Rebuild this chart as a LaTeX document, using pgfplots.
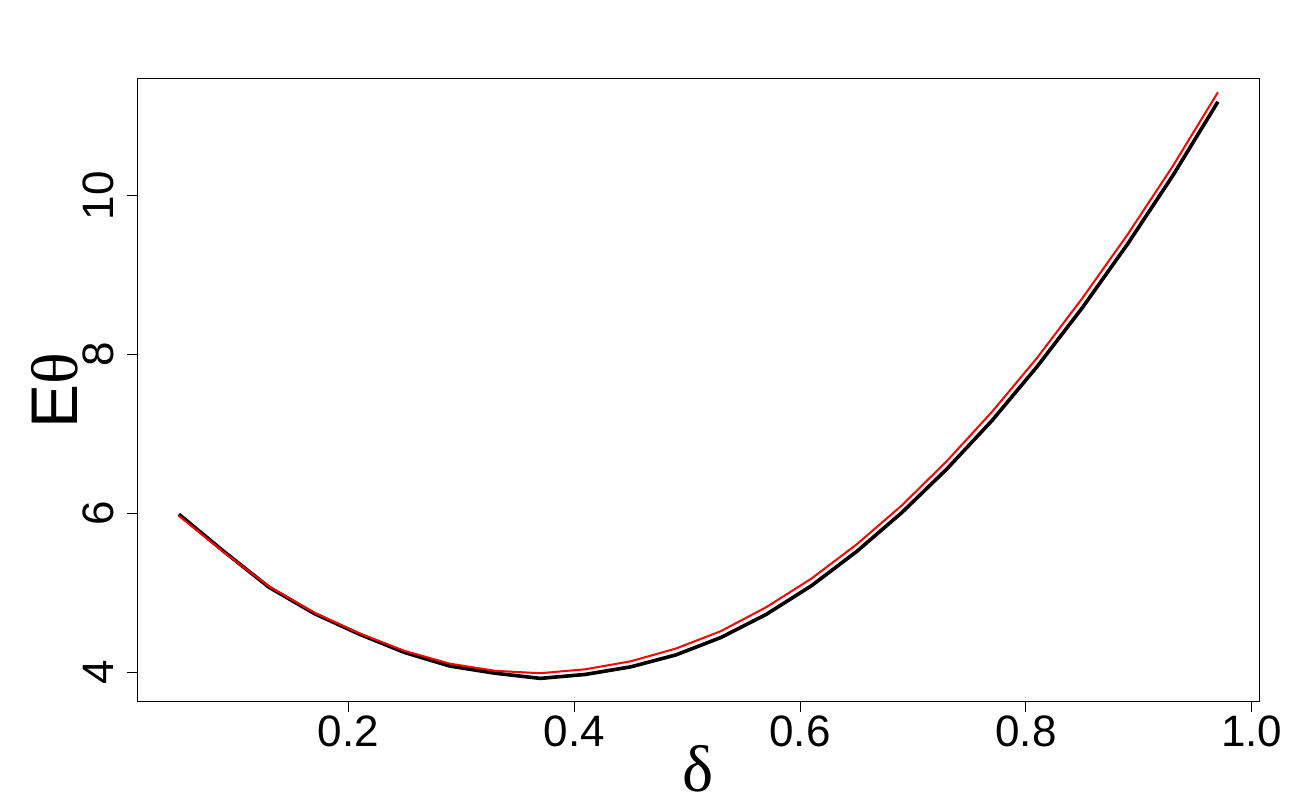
\documentclass[border=0pt]{standalone}
\usepackage{fontspec}
\setmainfont{Liberation Sans}
\newfontfamily\grk{Liberation Serif}
\usepackage{pgfplots}
\pgfplotsset{compat=1.18}
\begin{document}
\begin{tikzpicture}
\begin{axis}[
  scale only axis, width=561pt, height=311.5pt,
  xmin=0.0132, xmax=1.0068, ymin=3.63, ymax=11.47,
  xtick={0.2,0.4,0.6,0.8,1.0}, ytick={4,6,8,10},
  tick align=outside, major tick length=5pt,
  tick style={black, line width=0.5pt},
  axis line style={line width=0.5pt},
  xtick pos=left, ytick pos=left,
  ticklabel style={font=\fontsize{22}{26}\selectfont, inner sep=0pt},
  /pgf/number format/assume math mode=true,
  x tick label style={/pgf/number format/.cd, fixed, fixed zerofill, precision=1, /tikz/.cd, anchor=north},
  y tick label style={rotate=90, anchor=base},
  xticklabel shift=2pt, yticklabel shift=7pt,
  xlabel={{\grk δ}},
  xlabel style={at={(axis description cs:0.5,-0.1445)}, anchor=base, inner sep=0pt, font=\fontsize{33}{38}\selectfont},
  ylabel={E{\grk θ}},
  ylabel style={at={(axis description cs:-0.0529,0.5)}, rotate=0, anchor=base, inner sep=0pt, font=\fontsize{33}{38}\selectfont},
]
\addplot[black, line width=1.8pt] coordinates {
(0.05,5.99) (0.09,5.52) (0.13,5.07) (0.17,4.74) (0.21,4.48) (0.25,4.25)
(0.29,4.08) (0.33,3.99) (0.37,3.925) (0.41,3.975) (0.45,4.07) (0.49,4.22)
(0.53,4.44) (0.57,4.73) (0.61,5.09) (0.65,5.52) (0.69,6.01) (0.73,6.56)
(0.77,7.17) (0.81,7.85) (0.85,8.59) (0.89,9.39) (0.93,10.25) (0.97,11.18)
};
\addplot[red, line width=1pt] coordinates {
(0.05,5.97) (0.09,5.51) (0.13,5.08) (0.17,4.75) (0.21,4.49) (0.25,4.27)
(0.29,4.11) (0.33,4.02) (0.37,3.99) (0.41,4.04) (0.45,4.14) (0.49,4.30)
(0.53,4.52) (0.57,4.82) (0.61,5.18) (0.65,5.61) (0.69,6.10) (0.73,6.66)
(0.77,7.28) (0.81,7.96) (0.85,8.71) (0.89,9.51) (0.93,10.37) (0.97,11.30)
};
\end{axis}
\pgfresetboundingbox
\path[use as bounding box] ([shift={(-68.65pt,-49.15pt)}]current axis.south west) rectangle ([shift={(20.25pt,39.35pt)}]current axis.north east);
\end{tikzpicture}
\end{document}
